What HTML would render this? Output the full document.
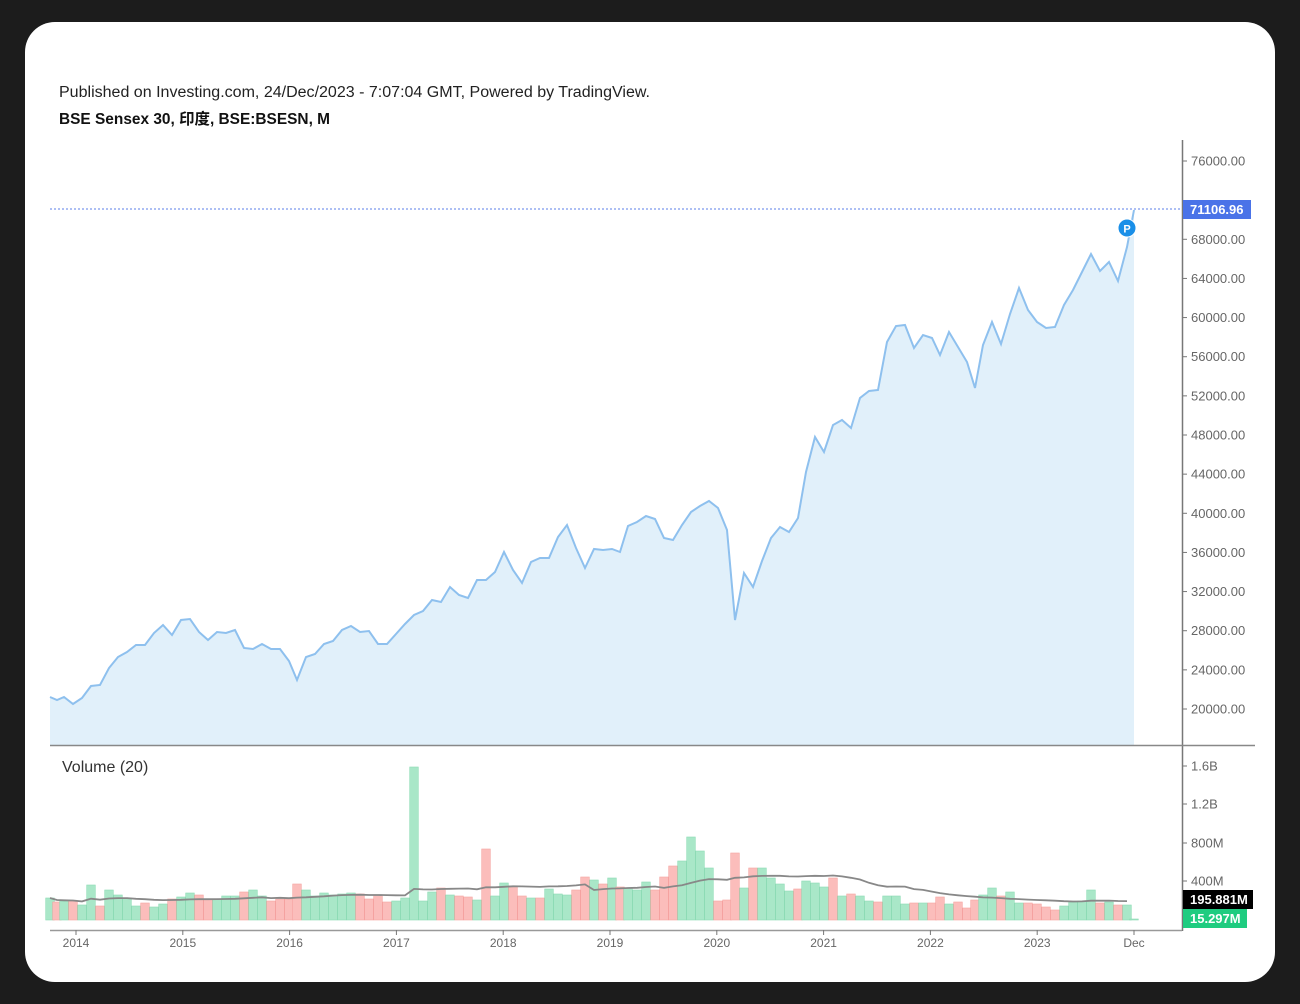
<!DOCTYPE html>
<html><head><meta charset="utf-8"><style>
html,body{margin:0;padding:0;background:#1c1c1c;width:1300px;height:1004px;overflow:hidden}
#card{position:absolute;left:25px;top:22px;width:1250px;height:960px;background:#fff;border-radius:30px}
svg{position:absolute;left:0;top:0}
text{font-family:"Liberation Sans","Noto Sans CJK SC",sans-serif}
</style></head><body>
<div id="card"></div>
<svg id="s" width="1300" height="1004" viewBox="0 0 1300 1004">
<text x="59" y="97" font-size="15.5" fill="#222" textLength="591" lengthAdjust="spacingAndGlyphs">Published on Investing.com, 24/Dec/2023 - 7:07:04 GMT, Powered by TradingView.</text>
<text x="59" y="124" font-size="15.5" font-weight="bold" fill="#111" textLength="271" lengthAdjust="spacingAndGlyphs">BSE Sensex 30, 印度, BSE:BSESN, M</text>
<g id="area"></g>
<g id="vol"></g>
<line x1="50" y1="209" x2="1182" y2="209" stroke="#5b7fe8" stroke-width="1" stroke-dasharray="2,2"/>
<line x1="1182.5" y1="140" x2="1182.5" y2="931" stroke="#777" stroke-width="1.5"/>
<line x1="50" y1="745.5" x2="1255" y2="745.5" stroke="#888" stroke-width="1.5"/>
<line x1="50" y1="930.5" x2="1182" y2="930.5" stroke="#999" stroke-width="1.5"/>
<text x="62" y="772" font-size="16" fill="#333">Volume (20)</text>
<g id="axis" font-size="13" fill="#666"></g>
<rect x="1183" y="200" width="68" height="19" fill="#4a73e8"/>
<text x="1190" y="214" font-size="13" font-weight="bold" fill="#fff">71106.96</text>
<rect x="1183" y="890" width="70" height="19" fill="#000"/>
<text x="1190" y="904" font-size="13" font-weight="bold" fill="#fff">195.881M</text>
<rect x="1183" y="909" width="64" height="19" fill="#1fcc80"/>
<text x="1190" y="923" font-size="13" font-weight="bold" fill="#fff">15.297M</text>
<circle cx="1127" cy="228" r="9" fill="#1a8fe8" stroke="#fff" stroke-width="1"/>
<text x="1127" y="232.5" font-size="11" font-weight="bold" fill="#fff" text-anchor="middle">P</text>
</svg>
<script>
var P=[[50,697],[57,700],[64,697],[73,704],[82,698],[91,686],[100,685],[109,668],[118,657],[127,652],[136,645],[145,645],[154,633],[163,625],[172,635],[181,620],[190,619],[199,632],[208,640],[217,632],[226,633],[235,630],[244,648],[253,649],[262,644],[271,649],[280,649],[289,661],[297,680],[306,657],[315,654],[324,644],[333,641],[342,630],[351,626],[360,632],[369,631],[378,644],[387,644],[396,634],[405,624],[414,615],[423,611],[432,600],[441,602],[450,587],[459,595],[468,598],[477,580],[486,580],[495,572],[504,552],[513,570],[522,583],[531,562],[540,558],[549,558],[558,537],[567,525],[576,548],[585,568],[594,549],[603,550],[612,549],[620,552],[628,526],[637,522],[646,516],[655,519],[664,538],[673,540],[682,525],[691,512],[700,506],[709,501],[718,508],[727,530],[735,620],[744,573],[753,587],[762,561],[771,538],[780,527],[789,532],[798,518],[806,472],[815,437],[824,452],[833,425],[842,420],[851,428],[860,398],[869,391],[878,390],[887,342],[896,326],[905,325],[914,348],[923,335],[932,338],[940,355],[949,332],[958,347],[967,362],[975,388],[983,345],[992,322],[1001,344],[1010,314],[1019,288],[1028,310],[1037,322],[1046,328],[1055,327],[1064,305],[1073,290],[1082,272],[1091,254],[1100,271],[1109,262],[1118,281],[1127,247],[1134,210]];
var NS="http://www.w3.org/2000/svg";
function el(t,a,p){var e=document.createElementNS(NS,t);for(var k in a)e.setAttribute(k,a[k]);p.appendChild(e);return e;}
var pts=P.map(function(p){return p.join(",")}).join(" ");
var g=document.getElementById("area");
el("polygon",{points:"50,745 "+pts+" 1134,745",fill:"#e1f0fa"},g);
el("polyline",{points:pts,fill:"none",stroke:"#8ec0ee","stroke-width":"2"},g);
var H=[22,18,19,19,15,35,14,30,25,22,14,17,13,16,21,23,27,25,21,21,24,24,28,30,24,19,21,21,36,30,24,27,25,26,27,26,21,
25,18,19,22,153,19,28,32,25,24,23,20,71,24,37,34,24,22,22,31,26,25,30,43,40,36,42,33,32,30,38,30,43,54,59,83,69,52,19,20,67,32,52,52,42,36,29,31,39,37,33,42,
24,26,24,19,18,24,24,16,17,17,17,23,16,18,12,20,25,32,24,28,17,17,16,13,10,14,18,19,30,17,18,15,15,1];
var C="grgrggrggggrggrggrrgggrggrrrrggggggrr"+"rrgggggrgrrgrggrrgrgggrrgrgrgggrrrggggrrrgrggggrggg"+"rg"+"rggrgggrgrrgrrrggrggrrrrggggrgrgggg";
var vg=document.getElementById("vol");
for(var i=0;i<P.length;i++){
 var up=C.charAt(i)!="r";
 var h=H[i]||18;var x=P[i][0]-4.3;
 el("rect",{x:x,y:920-h,width:8.6,height:h,fill:up?"#a9e7c8":"#fbbdbb",stroke:up?"#8ddbb5":"#f5a3a0","stroke-width":"0.6"},vg);
}
var ma=[];for(var i=0;i<P.length-1;i++){var s=0,n=0;for(var j=Math.max(0,i-19);j<=i;j++){s+=H[j]||18;n++;}ma.push(P[i][0]+","+(920-s/n).toFixed(1));}
el("polyline",{points:ma.join(" "),fill:"none",stroke:"#888","stroke-width":"1.8"},vg);
var ax=document.getElementById("axis");
for(var v=20000;v<=76000;v+=4000){var y=709-(v-20000)*(548/56000);
 if(v==72000)continue;
 el("line",{x1:1182,x2:1187,y1:y,y2:y,stroke:"#777"},ax);
 var t=el("text",{x:1191,y:y+4.5},ax);t.textContent=v+".00";}
var vl=[["1.6B",766],["1.2B",804],["800M",843],["400M",881]];
vl.forEach(function(a){el("line",{x1:1182,x2:1187,y1:a[1],y2:a[1],stroke:"#777"},ax);var t=el("text",{x:1191,y:a[1]+4.5},ax);t.textContent=a[0];});
var yr=["2014","2015","2016","2017","2018","2019","2020","2021","2022","2023"];
yr.forEach(function(s,i){var x=76+i*106.8;el("line",{x1:x,x2:x,y1:930,y2:935,stroke:"#777"},ax);var t=el("text",{x:x,y:947,"text-anchor":"middle","font-size":"12"},ax);t.textContent=s;});
el("line",{x1:1134,x2:1134,y1:930,y2:935,stroke:"#777"},ax);
var t=el("text",{x:1134,y:947,"text-anchor":"middle","font-size":"12"},ax);t.textContent="Dec";
</script>
</body></html>
